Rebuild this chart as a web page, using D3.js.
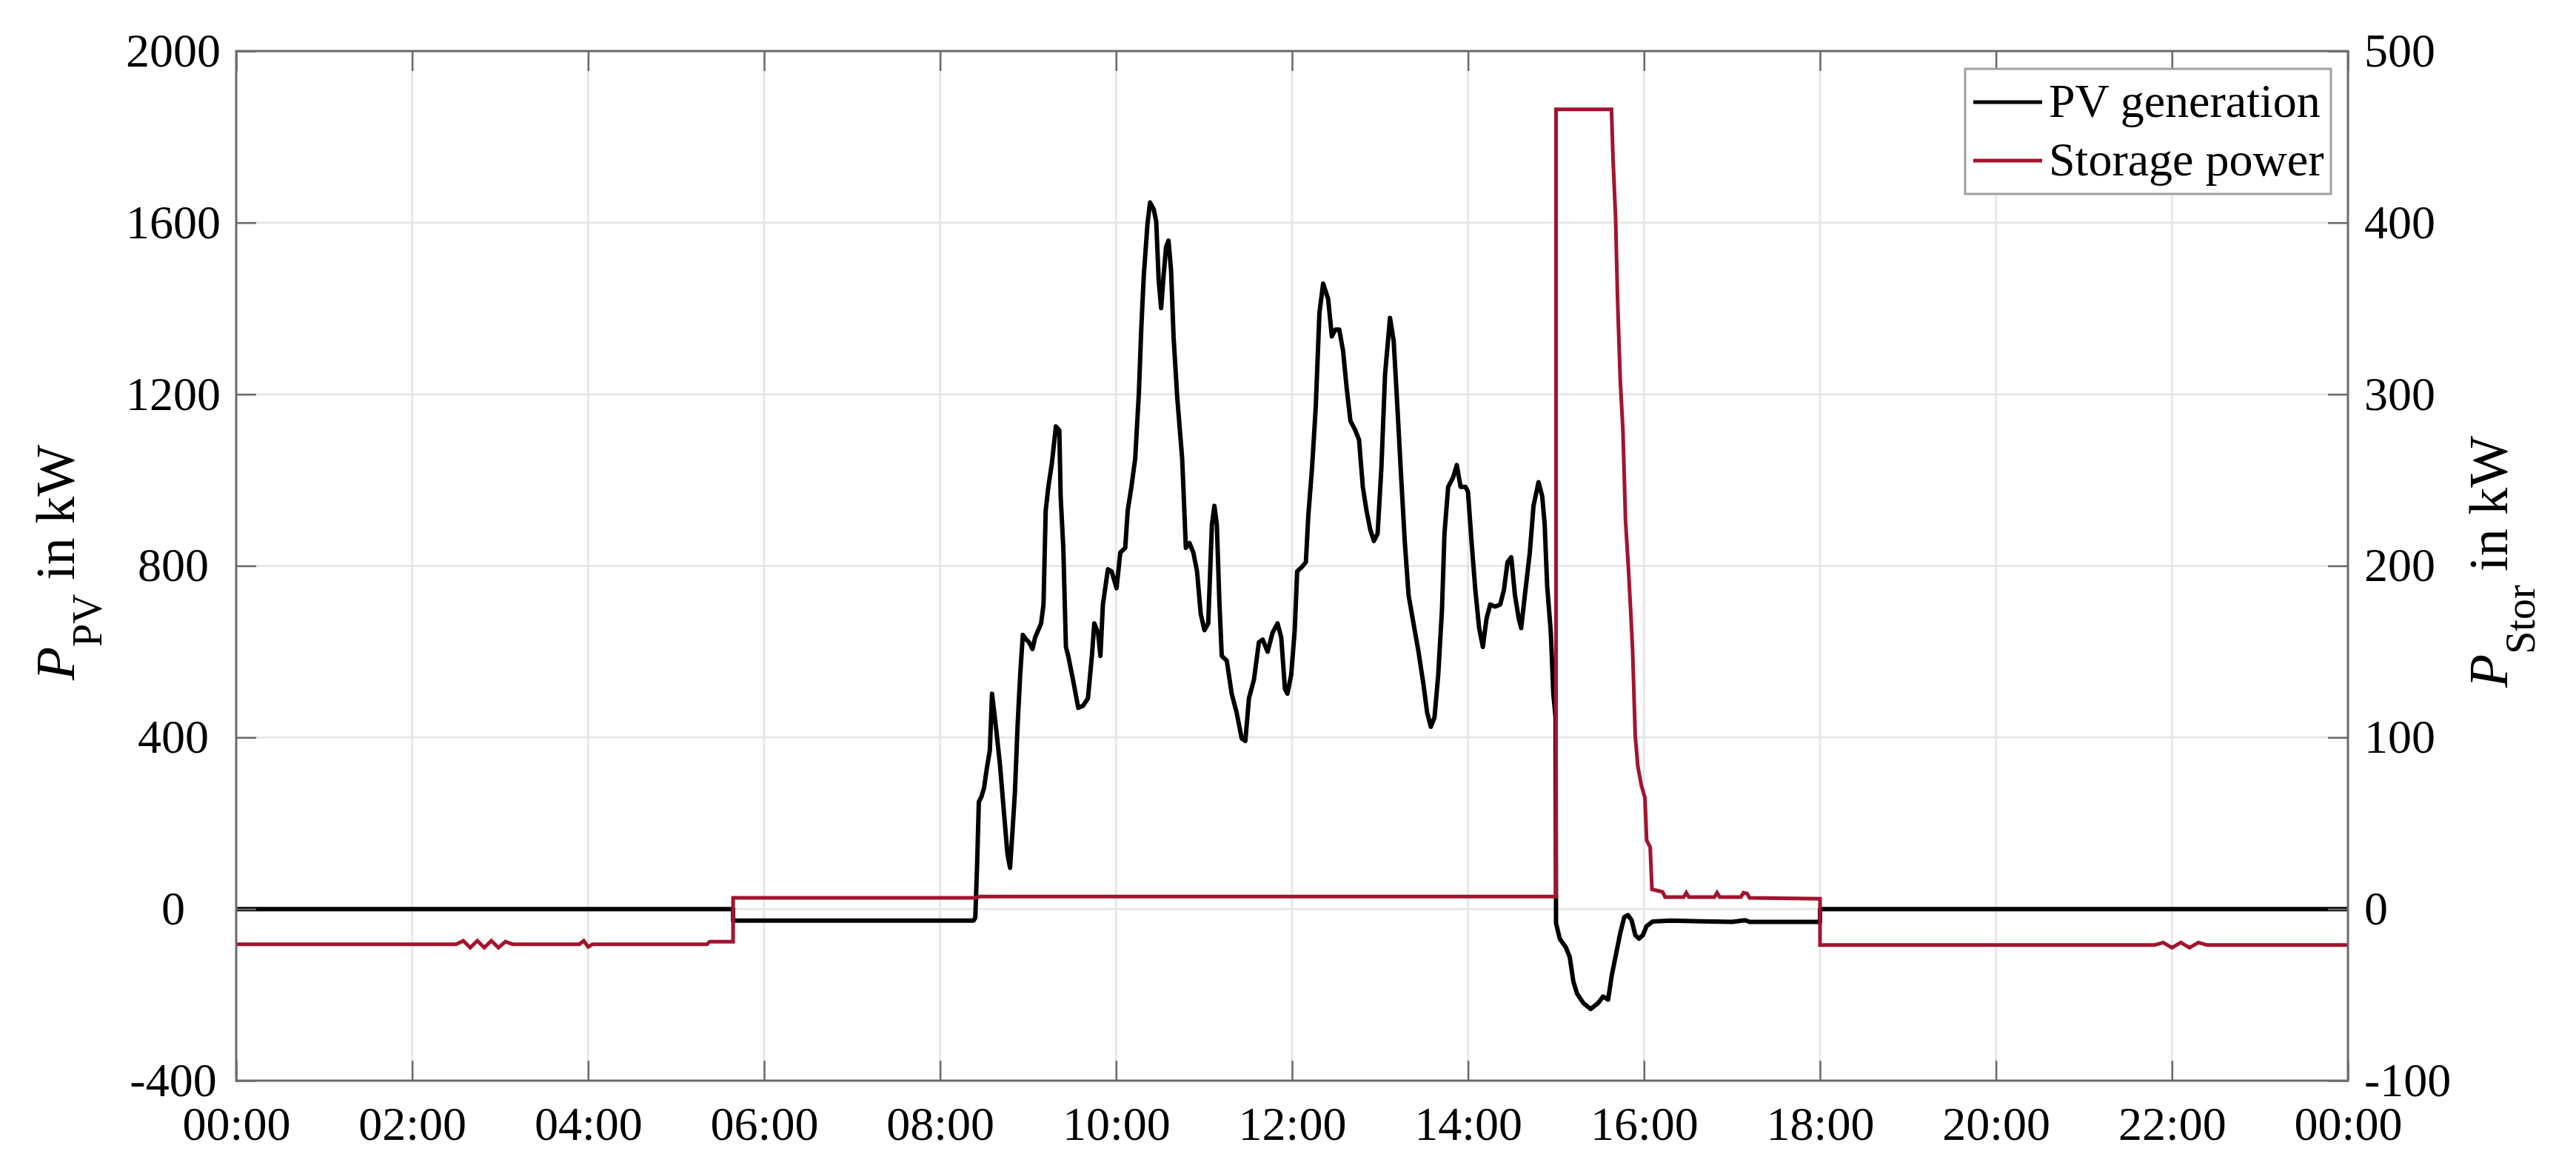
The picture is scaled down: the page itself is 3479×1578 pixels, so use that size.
<!DOCTYPE html>
<html>
<head>
<meta charset="utf-8">
<script src="https://cdn.jsdelivr.net/npm/d3@7"></script>
<style>
  html, body { margin: 0; padding: 0; background: #fff; }
  svg { display: block; font-family: "Liberation Serif", "DejaVu Serif", serif; }
</style>
</head>
<body>
<svg id="chart" width="3479" height="1578"></svg>
<script>
// ---------------- DATA ----------------
const seriesNames = ["PV generation", "Storage power"];
const xTickHours = [0, 2, 4, 6, 8, 10, 12, 14, 16, 18, 20, 22, 24];
const yLeftTicks = [-400, 0, 400, 800, 1200, 1600, 2000];
const yRightTicks = [-100, 0, 100, 200, 300, 400, 500];

// PV generation (kW, left axis); time in hours of day
const pvTime = [0, 5.647, 5.647, 8.38, 8.40, 8.42, 8.44, 8.47, 8.50, 8.53, 8.565, 8.59, 8.64, 8.68, 8.72, 8.765, 8.795, 8.82, 8.85, 8.88, 8.91, 8.94, 8.98, 9.01, 9.05, 9.08, 9.148, 9.175, 9.20, 9.23, 9.27, 9.316, 9.355, 9.37, 9.40, 9.43, 9.456, 9.51, 9.57, 9.625, 9.68, 9.725, 9.752, 9.795, 9.822, 9.85, 9.907, 9.95, 10.005, 10.048, 10.104, 10.132, 10.174, 10.217, 10.259, 10.287, 10.315, 10.357, 10.386, 10.428, 10.456, 10.484, 10.512, 10.54, 10.568, 10.596, 10.625, 10.653, 10.695, 10.751, 10.793, 10.835, 10.878, 10.92, 10.962, 11.004, 11.047, 11.089, 11.117, 11.145, 11.173, 11.201, 11.258, 11.314, 11.37, 11.427, 11.469, 11.51, 11.567, 11.623, 11.666, 11.722, 11.778, 11.835, 11.877, 11.919, 11.947, 11.99, 12.03, 12.058, 12.114, 12.157, 12.185, 12.227, 12.269, 12.311, 12.353, 12.41, 12.452, 12.494, 12.536, 12.579, 12.621, 12.663, 12.719, 12.761, 12.804, 12.846, 12.888, 12.93, 12.972, 13.015, 13.057, 13.113, 13.155, 13.197, 13.24, 13.282, 13.324, 13.38, 13.436, 13.493, 13.535, 13.577, 13.619, 13.661, 13.704, 13.732, 13.774, 13.83, 13.872, 13.915, 13.971, 13.999, 14.041, 14.083, 14.126, 14.168, 14.21, 14.252, 14.308, 14.365, 14.407, 14.449, 14.491, 14.533, 14.576, 14.604, 14.646, 14.702, 14.744, 14.801, 14.843, 14.871, 14.899, 14.941, 14.969, 14.995, 15.0, 15.042, 15.113, 15.155, 15.197, 15.239, 15.31, 15.394, 15.479, 15.535, 15.592, 15.634, 15.676, 15.732, 15.775, 15.817, 15.859, 15.901, 15.944, 15.986, 16.028, 16.099, 16.3, 17.0, 17.15, 17.2, 18.0, 18.0, 24];
const pvValue = [0, 0, -27, -27, -20, 100, 250, 262, 283, 327, 370, 502, 414, 337, 239, 129, 96, 173, 272, 425, 546, 639, 628, 622, 606, 633, 666, 710, 929, 984, 1039, 1125, 1116, 962, 842, 611, 590, 535, 469, 474, 491, 590, 666, 644, 590, 710, 792, 787, 748, 831, 842, 929, 984, 1050, 1203, 1357, 1477, 1598, 1647, 1631, 1603, 1466, 1401, 1477, 1543, 1558, 1488, 1335, 1192, 1050, 842, 853, 831, 787, 688, 650, 666, 896, 940, 896, 721, 590, 579, 502, 458, 398, 392, 491, 535, 622, 628, 600, 644, 666, 633, 513, 502, 546, 650, 787, 798, 809, 918, 1028, 1170, 1390, 1458, 1422, 1335, 1351, 1351, 1302, 1214, 1138, 1116, 1094, 984, 929, 885, 858, 875, 1028, 1247, 1378, 1324, 1170, 1006, 853, 732, 666, 601, 524, 458, 425, 447, 546, 699, 875, 984, 1006, 1035, 984, 984, 973, 853, 743, 655, 611, 677, 710, 705, 710, 743, 809, 820, 732, 677, 655, 732, 831, 940, 995, 962, 896, 754, 644, 502, 447, -33, -69, -90, -111, -169, -197, -219, -233, -219, -204, -211, -154, -111, -54, -19, -14, -26, -61, -69, -61, -40, -29, -27, -30, -26, -30, -30, 0, 0];

// Storage power (kW, right axis)
const storTime = [0, 2.5, 2.58, 2.66, 2.74, 2.82, 2.9, 2.98, 3.06, 3.14, 3.9, 3.95, 4.0, 4.05, 5.35, 5.38, 5.647, 5.647, 8.4, 8.45, 15.0, 15.0, 15.63, 15.648, 15.676, 15.70, 15.73, 15.76, 15.79, 15.82, 15.85, 15.87, 15.90, 15.93, 15.97, 16.01, 16.03, 16.07, 16.09, 16.21, 16.24, 16.45, 16.48, 16.51, 16.80, 16.83, 16.86, 17.10, 17.13, 17.17, 17.20, 18.0, 18.0, 21.8, 21.9, 22.0, 22.1, 22.2, 22.3, 22.4, 22.5, 24];
const storValue = [-20.5, -20.5, -18.5, -22.5, -18.5, -22.5, -18.5, -22.5, -19, -20.5, -20.5, -18.5, -22, -20.5, -20.5, -19, -19, 6.5, 6.5, 7.3, 7.3, 466, 466, 437, 404, 354, 308, 279, 226, 201, 172, 151, 101, 83, 72, 65, 40, 36, 11.5, 10, 7, 7, 9.5, 7, 7, 9.5, 7, 7, 9.5, 9, 6.5, 6, -21, -21, -19.5, -22.5, -19.5, -22.5, -19.5, -21, -21, -21];

// ---------------- LAYOUT ----------------
const W = 3479, H = 1578;
const L = 319, R = 3171, T = 69, B = 1460;
const TICK = 27;
const FS = 64;
const axisColor = "#6a6a6a";
const gridColor = "#e4e4e4";
const storColor = "#A2142F";

const svg = d3.select("#chart");

const x = d3.scaleLinear().domain([0, 24]).range([L, R]);
const yL = d3.scaleLinear().domain([-400, 2000]).range([B, T]);
const yR = d3.scaleLinear().domain([-100, 500]).range([B, T]);

// Grid
const grid = svg.append("g");
grid.selectAll("line.vg").data(xTickHours.slice(1, -1)).join("line")
  .attr("x1", d => x(d)).attr("x2", d => x(d)).attr("y1", T).attr("y2", B)
  .attr("stroke", gridColor).attr("stroke-width", 2.5);
grid.selectAll("line.hg").data(yLeftTicks.slice(1, -1)).join("line")
  .attr("y1", d => yL(d)).attr("y2", d => yL(d)).attr("x1", L).attr("x2", R)
  .attr("stroke", gridColor).attr("stroke-width", 2.5);

// Lines
const pvData = pvTime.map((t, i) => [t, pvValue[i]]);
const stData = storTime.map((t, i) => [t, storValue[i]]);
const linePV = d3.line().x(d => x(d[0])).y(d => yL(d[1]));
const lineST = d3.line().x(d => x(d[0])).y(d => yR(d[1]));

svg.append("path").datum(pvData).attr("d", linePV)
  .attr("fill", "none").attr("stroke", "#000").attr("stroke-width", 6)
  .attr("stroke-linejoin", "round");
svg.append("path").datum(stData).attr("d", lineST)
  .attr("fill", "none").attr("stroke", storColor).attr("stroke-width", 5)
  .attr("stroke-linejoin", "miter");

// Axes
const fmtHour = h => String(h % 24).padStart(2, "0") + ":00";
const fmtNum = d => String(d);

function styleAxis(g) {
  g.select(".domain").remove();
  g.selectAll(".tick line").attr("stroke", axisColor).attr("stroke-width", 2.5);
  g.selectAll(".tick text").attr("fill", "#000").style("font-size", FS + "px")
    .style("font-family", '"Liberation Serif", "DejaVu Serif", serif');
}

svg.append("g").attr("transform", `translate(0,${B})`)
  .call(d3.axisBottom(x).tickValues(xTickHours).tickSize(-TICK).tickPadding(35).tickFormat(fmtHour))
  .call(styleAxis);

svg.append("g").attr("transform", `translate(0,${T})`)
  .call(d3.axisTop(x).tickValues(xTickHours).tickSize(-TICK).tickFormat(""))
  .call(styleAxis);

const gl = svg.append("g").attr("transform", `translate(${L},0)`)
  .call(d3.axisLeft(yL).tickValues(yLeftTicks).tickSize(-TICK).tickFormat(fmtNum))
  .call(styleAxis);
gl.selectAll(".tick text").attr("text-anchor", "middle").attr("x", -85);

svg.append("g").attr("transform", `translate(${R},0)`)
  .call(d3.axisRight(yR).tickValues(yRightTicks).tickSize(-TICK).tickPadding(22).tickFormat(fmtNum))
  .call(styleAxis);

// Box
svg.append("rect").attr("x", L).attr("y", T).attr("width", R - L).attr("height", B - T)
  .attr("fill", "none").attr("stroke", axisColor).attr("stroke-width", 3);

// Axis titles
function yTitle(cx, cy, sub) {
  const t = svg.append("text")
    .attr("transform", `translate(${cx},${cy}) rotate(-90)`)
    .attr("text-anchor", "middle")
    .style("font-size", "74px").attr("fill", "#000");
  t.append("tspan").style("font-style", "italic").text("P");
  t.append("tspan").attr("dy", 37).style("font-size", "56px").text(sub);
  t.append("tspan").attr("dy", -37).text(" in kW");
}
yTitle(100, 760, "PV");
yTitle(3386, 759, "Stor");

// Legend
const lg = svg.append("g");
lg.append("rect").attr("x", 2654).attr("y", 93).attr("width", 3148 - 2654).attr("height", 262 - 93)
  .attr("fill", "#fff").attr("stroke", "#a0a0a0").attr("stroke-width", 3);
const legendColors = ["#000", storColor];
const legendY = [138, 217];
seriesNames.forEach((name, i) => {
  lg.append("line").attr("x1", 2665).attr("x2", 2758)
    .attr("y1", legendY[i]).attr("y2", legendY[i])
    .attr("stroke", legendColors[i]).attr("stroke-width", 5);
  lg.append("text").attr("x", 2767).attr("y", legendY[i]).attr("dy", "0.32em")
    .style("font-size", FS + "px").attr("fill", "#000").text(name);
});
</script>
</body>
</html>
